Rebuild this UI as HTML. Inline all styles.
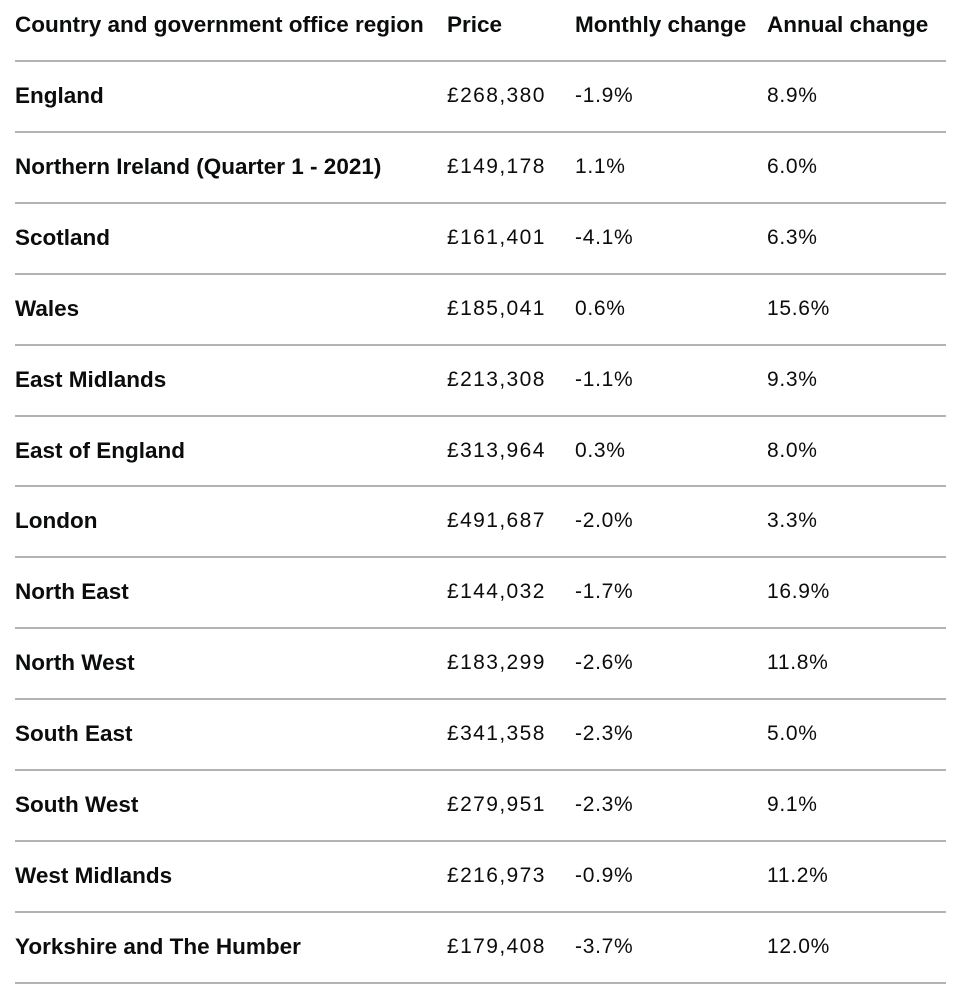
<!DOCTYPE html>
<html><head><meta charset="utf-8"><style>
body{margin:0;width:960px;height:1003px;background:#fff;font-family:"Liberation Sans",sans-serif;color:#0b0c0c;position:relative;overflow:hidden}
.t{position:absolute;font-size:21px;line-height:24px;white-space:nowrap;letter-spacing:0.7px}
.p{letter-spacing:1.4px}
.b{font-weight:bold;font-size:22.5px;letter-spacing:0}
.l{position:absolute;left:15px;width:931px;height:2px;background:#b1b4b6}
</style></head><body>
<div class="t b" style="left:15px;top:13px">Country and government office region</div>
<div class="t b" style="left:447px;top:13px">Price</div>
<div class="t b" style="left:575px;top:13px">Monthly change</div>
<div class="t b" style="left:767px;top:13px">Annual change</div>
<div id="rows"></div>
<script>
var d=[["England","£268,380","-1.9%","8.9%"],["Northern Ireland (Quarter 1 - 2021)","£149,178","1.1%","6.0%"],["Scotland","£161,401","-4.1%","6.3%"],["Wales","£185,041","0.6%","15.6%"],["East Midlands","£213,308","-1.1%","9.3%"],["East of England","£313,964","0.3%","8.0%"],["London","£491,687","-2.0%","3.3%"],["North East","£144,032","-1.7%","16.9%"],["North West","£183,299","-2.6%","11.8%"],["South East","£341,358","-2.3%","5.0%"],["South West","£279,951","-2.3%","9.1%"],["West Midlands","£216,973","-0.9%","11.2%"],["Yorkshire and The Humber","£179,408","-3.7%","12.0%"]];
var h='<div class="l" style="top:60px"></div>';
d.forEach(function(r,i){var y=60+i*70.9;var ty=y+24;
h+='<div class="t b" style="left:15px;top:'+ty+'px">'+r[0]+'</div>'+
'<div class="t p" style="left:447px;top:'+ty+'px">'+r[1]+'</div>'+
'<div class="t" style="left:575px;top:'+ty+'px">'+r[2]+'</div>'+
'<div class="t" style="left:767px;top:'+ty+'px">'+r[3]+'</div>'+
'<div class="l" style="top:'+(y+70.9)+'px"></div>';});
document.getElementById('rows').innerHTML=h;
</script>
</body></html>
